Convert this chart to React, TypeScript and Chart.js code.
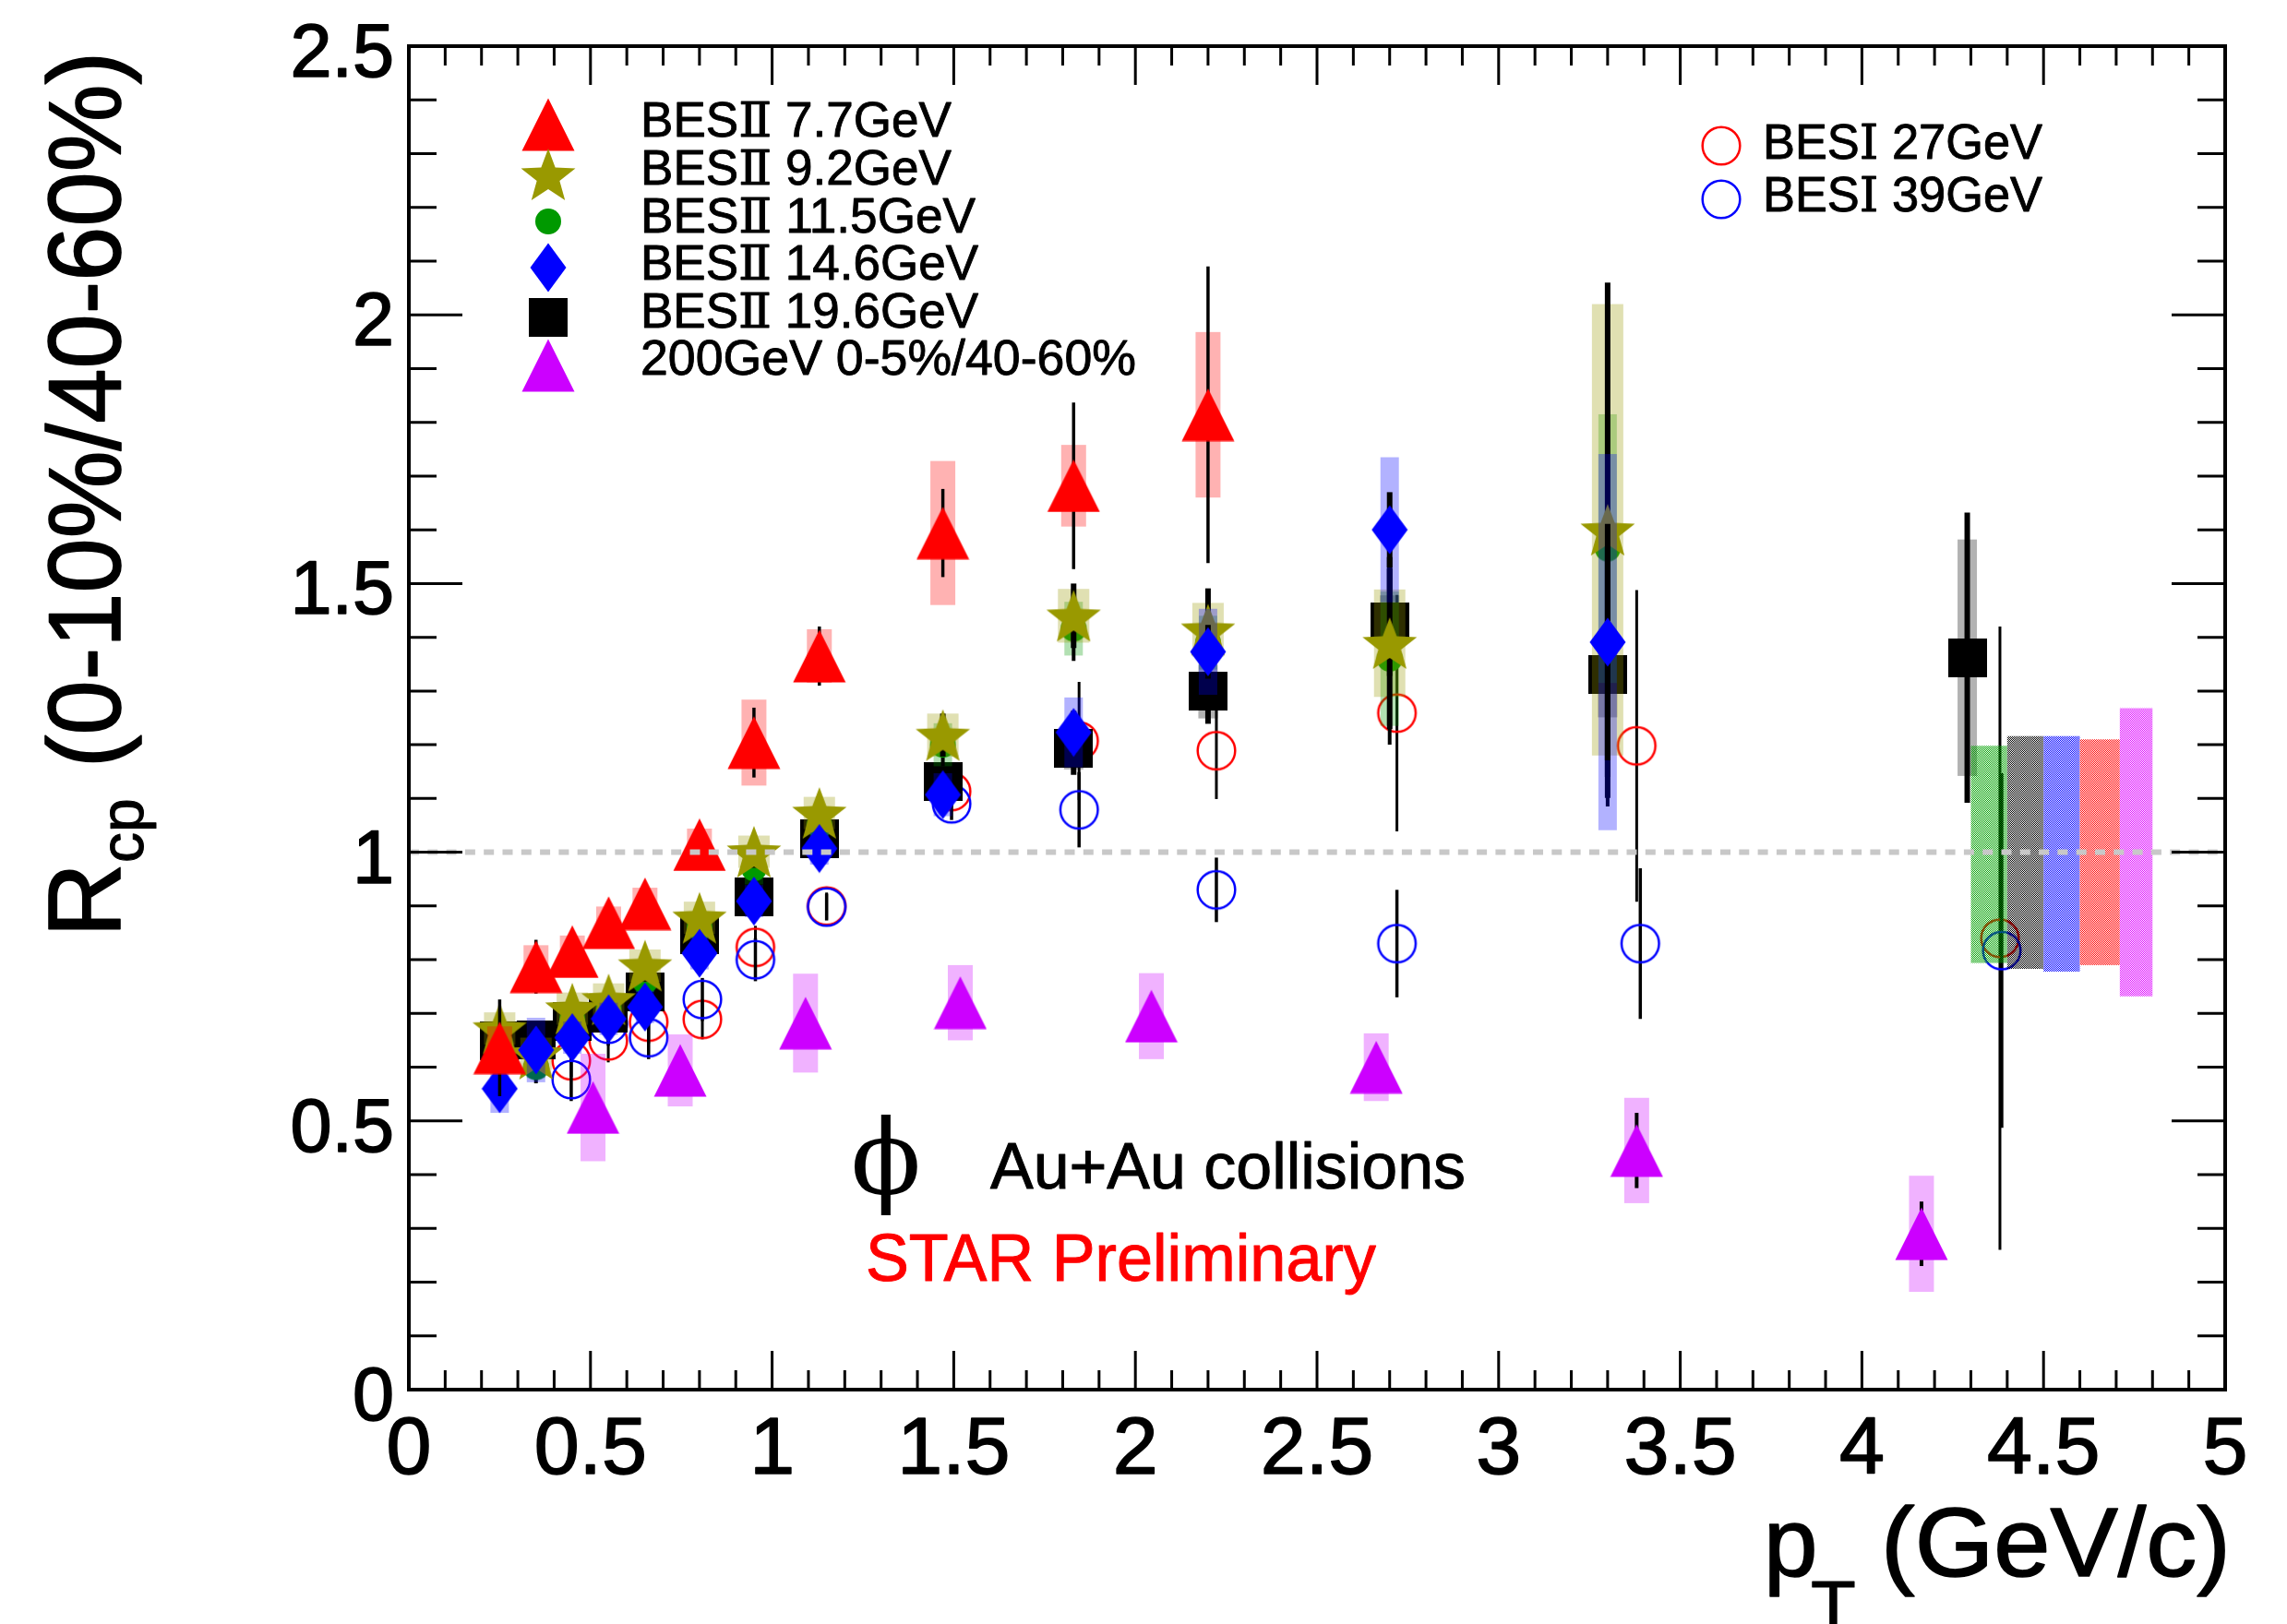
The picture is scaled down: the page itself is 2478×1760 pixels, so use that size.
import React, { useEffect, useRef } from 'react';
import { Chart, registerables } from 'chart.js';

Chart.register(...registerables);

const W = 2478;
const H = 1760;

// ---------------- data ----------------
const seriesLabels = [
  'BESⅡ 7.7GeV',
  'BESⅡ 9.2GeV',
  'BESⅡ 11.5GeV',
  'BESⅡ 14.6GeV',
  'BESⅡ 19.6GeV',
  '200GeV 0-5%/40-60%',
  'BESⅠ 27GeV',
  'BESⅠ 39GeV',
];

const x77 = [0.25, 0.35, 0.45, 0.55, 0.65, 0.8, 0.95, 1.13, 1.47, 1.83, 2.2];
const y77 = [0.636, 0.787, 0.815, 0.869, 0.904, 1.014, 1.204, 1.365, 1.594, 1.682, 1.814];
const stat77 = [0.09, 0.05, 0.03, 0.03, 0.03, 0.03, 0.065, 0.055, 0.082, 0.155, 0.276];
const sys77 = [0.04, 0.04, 0.03, 0.03, 0.03, 0.03, 0.08, 0.05, 0.134, 0.076, 0.154];

const x92 = [0.25, 0.35, 0.45, 0.55, 0.65, 0.8, 0.95, 1.13, 1.47, 1.83, 2.2, 2.7, 3.3];
const y92 = [0.672, 0.625, 0.709, 0.726, 0.789, 0.878, 1.001, 1.073, 1.218, 1.44, 1.414, 1.389, 1.6];
const stat92 = [0.03, 0.03, 0.03, 0.03, 0.03, 0.03, 0.03, 0.03, 0.04, 0.06, 0.077, 0.16, 0.46];
const sys92 = [0.03, 0.03, 0.03, 0.03, 0.03, 0.03, 0.03, 0.03, 0.04, 0.05, 0.05, 0.1, 0.42];

const x115 = [0.25, 0.35, 0.45, 0.55, 0.65, 0.8, 0.95, 1.13, 1.47, 1.83, 2.2, 2.7, 3.3];
const y115 = [0.645, 0.6, 0.69, 0.71, 0.76, 0.86, 0.97, 1.05, 1.2, 1.416, 1.39, 1.36, 1.565];
const stat115 = [0.03, 0.03, 0.03, 0.03, 0.03, 0.03, 0.03, 0.03, 0.04, 0.06, 0.077, 0.16, 0.48];
const sys115 = [0.02, 0.02, 0.02, 0.02, 0.02, 0.02, 0.03, 0.03, 0.04, 0.05, 0.05, 0.125, 0.25];

const x146 = [0.25, 0.35, 0.45, 0.55, 0.65, 0.8, 0.95, 1.13, 1.47, 1.83, 2.2, 2.7, 3.3];
const y146 = [0.56, 0.632, 0.655, 0.69, 0.712, 0.812, 0.909, 1.007, 1.107, 1.223, 1.373, 1.6, 1.391];
const stat146 = [0.02, 0.02, 0.02, 0.02, 0.02, 0.02, 0.02, 0.02, 0.03, 0.04, 0.05, 0.07, 0.22];
const sys146 = [0.045, 0.06, 0.03, 0.03, 0.03, 0.03, 0.03, 0.03, 0.04, 0.065, 0.08, 0.135, 0.35];

const x196 = [0.25, 0.35, 0.45, 0.55, 0.65, 0.8, 0.95, 1.13, 1.47, 1.83, 2.2, 2.7, 3.3, 4.29];
const y196 = [0.649, 0.65, 0.685, 0.7, 0.74, 0.846, 0.917, 1.025, 1.132, 1.194, 1.299, 1.428, 1.331, 1.362];
const stat196 = [0.03, 0.03, 0.03, 0.03, 0.03, 0.03, 0.03, 0.03, 0.03, 0.05, 0.06, 0.1, 0.23, 0.27];
const sys196 = [0.02, 0.02, 0.02, 0.02, 0.02, 0.02, 0.02, 0.02, 0.03, 0.04, 0.05, 0.05, 0.08, 0.22];

const x200 = [0.507, 0.747, 1.092, 1.518, 2.044, 2.663, 3.38, 4.164];
const y200 = [0.525, 0.594, 0.682, 0.72, 0.695, 0.6, 0.445, 0.29];
const stat200 = [0.02, 0.02, 0.02, 0.03, 0.04, 0.04, 0.07, 0.06];
const sys200 = [0.1, 0.067, 0.092, 0.07, 0.08, 0.063, 0.098, 0.108];

const x27 = [0.447, 0.549, 0.66, 0.808, 0.954, 1.15, 1.494, 1.845, 2.223, 2.72, 3.38, 4.38];
const y27 = [0.612, 0.649, 0.684, 0.689, 0.823, 0.9, 1.113, 1.207, 1.189, 1.259, 1.198, 0.84];
const stat27 = [0.03, 0.04, 0.04, 0.037, 0.04, 0.025, 0.03, 0.11, 0.09, 0.22, 0.29, 0.58];

const x39 = [0.447, 0.549, 0.66, 0.808, 0.954, 1.15, 1.494, 1.845, 2.223, 2.72, 3.39, 4.385];
const y39 = [0.577, 0.68, 0.655, 0.726, 0.8, 0.898, 1.09, 1.079, 0.93, 0.83, 0.83, 0.817];
const stat39 = [0.04, 0.04, 0.04, 0.04, 0.04, 0.025, 0.03, 0.07, 0.06, 0.1, 0.14, 0.33];

// global (correlated) uncertainty boxes near pT ~ 4.3-4.8
const globalEdges = [4.3, 4.4, 4.5, 4.6, 4.71, 4.8];
const globalLow = [0.794, 0.783, 0.778, 0.79, 0.732];
const globalHigh = [1.198, 1.216, 1.216, 1.21, 1.268];

const xTickValues = [0, 0.5, 1, 1.5, 2, 2.5, 3, 3.5, 4, 4.5, 5];
const xTickLabels = ['0', '0.5', '1', '1.5', '2', '2.5', '3', '3.5', '4', '4.5', '5'];
const yTickValues = [0, 0.5, 1, 1.5, 2, 2.5];
const yTickLabels = ['0', '0.5', '1', '1.5', '2', '2.5'];

// ---------------- styles ----------------
type MarkerKind = 'tri' | 'star' | 'dot' | 'diamond' | 'square' | 'ring';
interface Series {
  label: string;
  xs: number[];
  ys: number[];
  stat: number[];
  sys: number[] | null;
  marker: MarkerKind;
  color: string;
  sysColor: string;
  sysHalf: number;
  statWidth: number;
  order: number;
}

const SERIES: Series[] = [
  { label: seriesLabels[0], xs: x77, ys: y77, stat: stat77, sys: sys77, marker: 'tri', color: '#ff0000', sysColor: 'rgba(255,0,0,0.3)', sysHalf: 13.5, statWidth: 3.5, order: 1 },
  { label: seriesLabels[1], xs: x92, ys: y92, stat: stat92, sys: sys92, marker: 'star', color: '#999900', sysColor: 'rgba(153,153,0,0.3)', sysHalf: 17, statWidth: 6, order: 3 },
  { label: seriesLabels[2], xs: x115, ys: y115, stat: stat115, sys: sys115, marker: 'dot', color: '#009900', sysColor: 'rgba(0,153,0,0.3)', sysHalf: 10, statWidth: 4, order: 4 },
  { label: seriesLabels[3], xs: x146, ys: y146, stat: stat146, sys: sys146, marker: 'diamond', color: '#0000ff', sysColor: 'rgba(0,0,255,0.3)', sysHalf: 10, statWidth: 6, order: 2 },
  { label: seriesLabels[4], xs: x196, ys: y196, stat: stat196, sys: sys196, marker: 'square', color: '#000000', sysColor: 'rgba(0,0,0,0.3)', sysHalf: 10.5, statWidth: 6, order: 5 },
  { label: seriesLabels[5], xs: x200, ys: y200, stat: stat200, sys: sys200, marker: 'tri', color: '#cc00ff', sysColor: 'rgba(204,0,255,0.3)', sysHalf: 13.5, statWidth: 4, order: 0 },
  { label: seriesLabels[6], xs: x27, ys: y27, stat: stat27, sys: null, marker: 'ring', color: '#ff0000', sysColor: '', sysHalf: 0, statWidth: 3, order: 7 },
  { label: seriesLabels[7], xs: x39, ys: y39, stat: stat39, sys: null, marker: 'ring', color: '#0000ff', sysColor: '', sysHalf: 0, statWidth: 3.5, order: 6 },
];

const globalColors = ['#00a000', '#000000', '#0000ff', '#ff0000', '#dd00ff'];

const SANS = '"Liberation Sans", Arial, Helvetica, sans-serif';
const SERIF = '"DejaVu Serif", "Liberation Serif", serif';

// ---------------- marker images ----------------
function mk(w: number, h: number, draw: (g: CanvasRenderingContext2D) => void): HTMLCanvasElement {
  const c = document.createElement('canvas');
  c.width = w;
  c.height = h;
  const g = c.getContext('2d')!;
  draw(g);
  return c;
}

function makeMarker(kind: MarkerKind, col: string): HTMLCanvasElement {
  switch (kind) {
    case 'tri':
      return mk(58, 58, (g) => {
        g.fillStyle = col;
        g.beginPath();
        g.moveTo(29, 0.5);
        g.lineTo(57.5, 57.5);
        g.lineTo(0.5, 57.5);
        g.closePath();
        g.fill();
      });
    case 'star':
      return mk(66, 66, (g) => {
        g.fillStyle = col;
        g.beginPath();
        for (let k = 0; k < 10; k++) {
          const r = k % 2 ? 13 : 31;
          const a = -Math.PI / 2 + (k * Math.PI) / 5;
          const px = 33 + r * Math.cos(a);
          const py = 36 + r * Math.sin(a);
          if (k === 0) g.moveTo(px, py);
          else g.lineTo(px, py);
        }
        g.closePath();
        g.fill();
      });
    case 'dot':
      return mk(30, 30, (g) => {
        g.fillStyle = col;
        g.beginPath();
        g.arc(15, 15, 14, 0, Math.PI * 2);
        g.fill();
      });
    case 'diamond':
      return mk(40, 54, (g) => {
        g.fillStyle = col;
        g.beginPath();
        g.moveTo(20, 0.5);
        g.lineTo(39.5, 27);
        g.lineTo(20, 53.5);
        g.lineTo(0.5, 27);
        g.closePath();
        g.fill();
      });
    case 'square':
      return mk(42, 42, (g) => {
        g.fillStyle = col;
        g.fillRect(0, 0, 42, 42);
      });
    case 'ring':
    default:
      return mk(48, 48, (g) => {
        g.strokeStyle = col;
        g.lineWidth = 2.5;
        g.beginPath();
        g.arc(24, 24, 20.3, 0, Math.PI * 2);
        g.stroke();
      });
  }
}

interface Seg {
  text: string;
  font: string;
}

// draws a run of text segments (different fonts), optionally squeezed/stretched to a width
function drawRich(
  ctx: CanvasRenderingContext2D,
  segs: Seg[],
  x: number,
  y: number,
  color: string,
  fitW?: number,
  align: 'left' | 'center' | 'right' = 'left',
  stroke = 0
) {
  ctx.save();
  ctx.textAlign = 'left';
  ctx.textBaseline = 'alphabetic';
  const widths = segs.map((s) => {
    ctx.font = s.font;
    return ctx.measureText(s.text).width;
  });
  const m = widths.reduce((p, c) => p + c, 0);
  const sx = fitW ? fitW / m : 1;
  let x0 = x;
  if (align === 'right') x0 = x - m * sx;
  else if (align === 'center') x0 = x - (m * sx) / 2;
  ctx.translate(x0, y);
  ctx.scale(sx, 1);
  ctx.fillStyle = color;
  ctx.strokeStyle = color;
  ctx.lineJoin = 'round';
  let cx = 0;
  segs.forEach((s, i) => {
    ctx.font = s.font;
    ctx.fillText(s.text, cx, 0);
    if (stroke > 0) {
      ctx.lineWidth = stroke;
      ctx.strokeText(s.text, cx, 0);
    }
    cx += widths[i];
  });
  ctx.restore();
}

function drawText(
  ctx: CanvasRenderingContext2D,
  text: string,
  x: number,
  y: number,
  font: string,
  color: string,
  fitW?: number,
  align: 'left' | 'center' | 'right' = 'left',
  stroke = 0
) {
  drawRich(ctx, [{ text, font }], x, y, color, fitW, align, stroke);
}

// split a label so that the Roman numeral is set in a serif face
function labelSegs(label: string, px: number): Seg[] {
  const out: Seg[] = [];
  let buf = '';
  for (const ch of label) {
    if (ch === 'Ⅰ' || ch === 'Ⅱ') {
      if (buf) out.push({ text: buf, font: `${px}px ${SANS}` });
      buf = '';
      out.push({ text: ch, font: `${px}px ${SERIF}` });
    } else buf += ch;
  }
  if (buf) out.push({ text: buf, font: `${px}px ${SANS}` });
  return out;
}

export default function App() {
  const ref = useRef<HTMLCanvasElement>(null);

  useEffect(() => {
    const canvas = ref.current;
    if (!canvas) return;

    const images = SERIES.map((s) => makeMarker(s.marker, s.color));

    const plugin = {
      id: 'rootStyle',
      beforeDatasetDraw(chart: any, args: any) {
        const s = SERIES[args.index];
        if (!s) return;
        const ctx: CanvasRenderingContext2D = chart.ctx;
        const xs = chart.scales.x;
        const ys = chart.scales.y;
        ctx.save();
        if (s.sys) {
          ctx.fillStyle = s.sysColor;
          s.xs.forEach((xv, i) => {
            const px = xs.getPixelForValue(xv);
            const top = ys.getPixelForValue(s.ys[i] + s.sys![i]);
            const bot = ys.getPixelForValue(s.ys[i] - s.sys![i]);
            ctx.fillRect(px - s.sysHalf, top, 2 * s.sysHalf, bot - top);
          });
        }
        ctx.strokeStyle = '#000';
        ctx.lineWidth = s.statWidth;
        ctx.lineCap = 'butt';
        s.xs.forEach((xv, i) => {
          const px = xs.getPixelForValue(xv);
          const top = ys.getPixelForValue(s.ys[i] + s.stat[i]);
          const bot = ys.getPixelForValue(s.ys[i] - s.stat[i]);
          ctx.beginPath();
          ctx.moveTo(px, top);
          ctx.lineTo(px, bot);
          ctx.stroke();
        });
        ctx.restore();
      },
      afterDatasetsDraw(chart: any) {
        const ctx: CanvasRenderingContext2D = chart.ctx;
        const xs = chart.scales.x;
        const ys = chart.scales.y;
        ctx.save();
        // global uncertainty boxes (dotted hatch)
        globalLow.forEach((lo, i) => {
          const pat = mk(2, 2, (g) => {
            g.fillStyle = globalColors[i];
            g.fillRect(0, 0, 1, 1);
            g.fillRect(1, 1, 1, 1);
          });
          const pattern = ctx.createPattern(pat, 'repeat');
          if (pattern) ctx.fillStyle = pattern;
          const l = xs.getPixelForValue(globalEdges[i]);
          const r = xs.getPixelForValue(globalEdges[i + 1]);
          const t = ys.getPixelForValue(globalHigh[i]);
          const b = ys.getPixelForValue(lo);
          ctx.fillRect(l, t, r - l, b - t);
        });
        // unity reference line
        ctx.strokeStyle = '#c8c8c8';
        ctx.lineWidth = 6;
        ctx.setLineDash([11, 9.3]);
        const y1 = ys.getPixelForValue(1);
        ctx.beginPath();
        ctx.moveTo(xs.getPixelForValue(0), y1);
        ctx.lineTo(xs.getPixelForValue(5), y1);
        ctx.stroke();
        ctx.restore();
      },
      afterDraw(chart: any) {
        const ctx: CanvasRenderingContext2D = chart.ctx;
        const xs = chart.scales.x;
        const ys = chart.scales.y;
        const a = chart.chartArea;
        ctx.save();
        // frame
        ctx.strokeStyle = '#000';
        ctx.lineWidth = 4;
        ctx.strokeRect(a.left, a.top, a.right - a.left, a.bottom - a.top);
        // ticks
        ctx.lineWidth = 3;
        ctx.beginPath();
        for (let i = 0; i <= 50; i++) {
          const v = i / 10;
          const px = xs.getPixelForValue(v);
          const len = i % 5 === 0 ? 42 : 21;
          ctx.moveTo(px, a.bottom);
          ctx.lineTo(px, a.bottom - len);
          ctx.moveTo(px, a.top);
          ctx.lineTo(px, a.top + len);
        }
        for (let i = 0; i <= 25; i++) {
          const v = i / 10;
          const py = ys.getPixelForValue(v);
          const len = i % 5 === 0 ? 58 : 30;
          ctx.moveTo(a.left, py);
          ctx.lineTo(a.left + len, py);
          ctx.moveTo(a.right, py);
          ctx.lineTo(a.right - len, py);
        }
        ctx.stroke();
        ctx.restore();

        // tick labels
        xTickValues.forEach((v, i) => {
          drawText(ctx, xTickLabels[i], xs.getPixelForValue(v), a.bottom + 91, `88px ${SANS}`, '#000', undefined, 'center', 1.6);
        });
        yTickValues.forEach((v, i) => {
          drawText(ctx, yTickLabels[i], a.left - 16, ys.getPixelForValue(v) + 33, `81px ${SANS}`, '#000', undefined, 'right', 1.6);
        });

        // y axis title (rotated)
        ctx.save();
        ctx.translate(130, 1016);
        ctx.rotate(-Math.PI / 2);
        drawText(ctx, 'R', 0, 0, `112px ${SANS}`, '#000', undefined, 'left', 1.6);
        drawText(ctx, 'cp', 81, 25, `66px ${SANS}`, '#000', undefined, 'left', 1);
        drawText(ctx, '(0-10%/40-60%)', 184, 0, `112px ${SANS}`, '#000', 776, 'left', 1.6);
        ctx.restore();

        // x axis title
        drawText(ctx, 'p', 1911, 1708, `105px ${SANS}`, '#000', undefined, 'left', 1.6);
        drawText(ctx, 'T', 1962, 1769, `80px ${SANS}`, '#000', undefined, 'left', 1);
        drawText(ctx, '(GeV/c)', 2038, 1708, `105px ${SANS}`, '#000', 379, 'left', 1.6);

        // legend (left)
        const legMY = [135, 189, 240, 290, 344, 396];
        const legTY = [148, 200, 252, 303, 355, 406];
        const legW = [337, 337, 363, 366, 366, 537];
        for (let i = 0; i < 6; i++) {
          const img = images[i];
          ctx.drawImage(img, 594 - img.width / 2, legMY[i] - img.height / 2);
          drawRich(ctx, labelSegs(SERIES[i].label, 53), 694, legTY[i], '#000', legW[i], 'left', 0.9);
        }
        // legend (right)
        const rMY = [158, 216];
        const rTY = [172, 229];
        for (let k = 0; k < 2; k++) {
          const img = images[6 + k];
          ctx.drawImage(img, 1865 - img.width / 2, rMY[k] - img.height / 2);
          drawRich(ctx, labelSegs(SERIES[6 + k].label, 53), 1910, rTY[k], '#000', 303, 'left', 0.9);
        }

        // annotations
        drawText(ctx, 'ϕ', 960, 1294, `112px ${SERIF}`, '#000', undefined, 'center');
        drawText(ctx, 'Au+Au collisions', 1073, 1288, `70px ${SANS}`, '#000', 515, 'left', 1);
        drawText(ctx, 'STAR Preliminary', 938, 1388, `72px ${SANS}`, '#ff0000', 553, 'left', 1);
      },
    };

    const chart = new Chart(canvas, {
      type: 'scatter',
      data: {
        datasets: SERIES.map((s, i) => ({
          label: s.label,
          data: s.xs.map((xv, j) => ({ x: xv, y: s.ys[j] })),
          pointStyle: images[i] as any,
          pointRadius: 20,
          pointHoverRadius: 20,
          showLine: false,
          order: s.order,
        })),
      },
      options: {
        animation: false,
        responsive: false,
        maintainAspectRatio: false,
        devicePixelRatio: 1,
        layout: { padding: { left: 443, right: 67, top: 50, bottom: 254 } },
        scales: {
          x: { type: 'linear', min: 0, max: 5, display: false },
          y: { type: 'linear', min: 0, max: 2.5, display: false },
        },
        plugins: {
          legend: { display: false },
          tooltip: { enabled: false },
        },
        events: [],
      },
      plugins: [plugin],
    } as any);

    return () => chart.destroy();
  }, []);

  return (
    <div style={{ position: 'absolute', left: 0, top: 0, width: W, height: H, background: '#fff' }}>
      <canvas ref={ref} width={W} height={H} style={{ display: 'block', width: W, height: H }} />
    </div>
  );
}
